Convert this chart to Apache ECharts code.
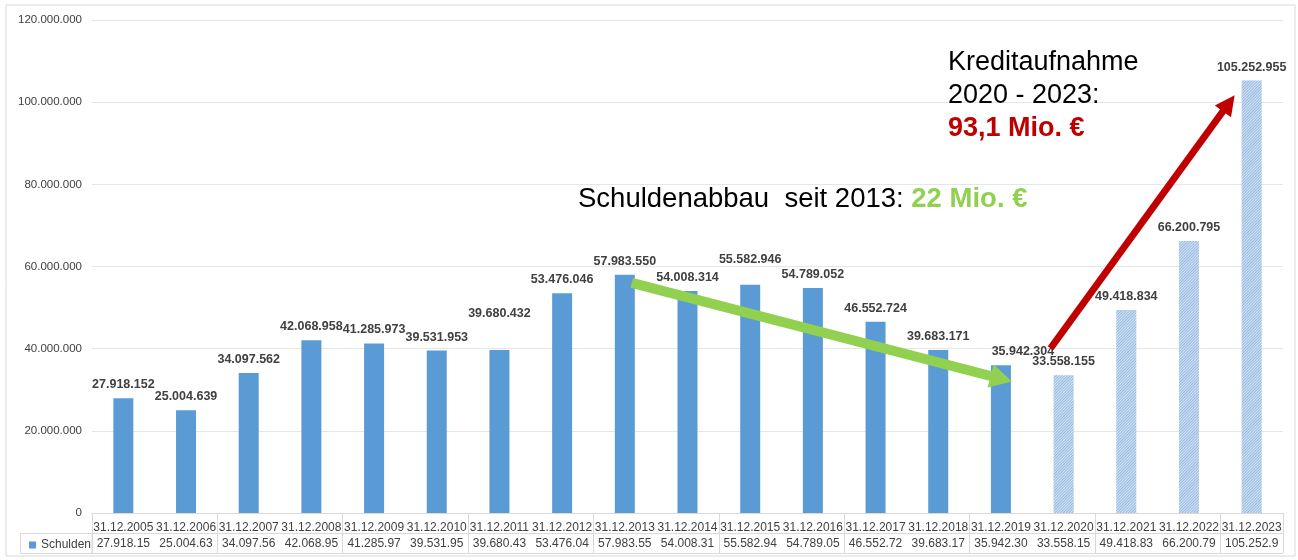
<!DOCTYPE html>
<html>
<head>
<meta charset="utf-8">
<script src="https://cdn.jsdelivr.net/npm/echarts@6/dist/echarts.min.js"></script>
<style>
    html, body { margin: 0; padding: 0; background: #fff; }
    #main { width: 1298px; height: 560px; }
</style>
</head>
<body>
<div id="main"></div>
<script>
    var dates = ['31.12.2005', '31.12.2006', '31.12.2007', '31.12.2008', '31.12.2009', '31.12.2010',
        '31.12.2011', '31.12.2012', '31.12.2013', '31.12.2014', '31.12.2015', '31.12.2016',
        '31.12.2017', '31.12.2018', '31.12.2019', '31.12.2020', '31.12.2021', '31.12.2022', '31.12.2023'];
    var schulden = [27918152, 25004639, 34097562, 42068958, 41285973, 39531953,
        39680432, 53476046, 57983550, 54008314, 55582946, 54789052,
        46552724, 39683171, 35942304, 33558155, 49418834, 66200795, 105252955];
    // Jahre mit Kreditaufnahme (schraffiert)
    var kreditJahre = ['31.12.2020', '31.12.2021', '31.12.2022', '31.12.2023'];
    var yTicks = [0, 20000000, 40000000, 60000000, 80000000, 100000000, 120000000];

    var myChart = echarts.init(document.getElementById('main'));

    function fmt(v) {
        return String(v).replace(/\B(?=(\d{3})+(?!\d))/g, '.');
    }

    // label shifts where the original moved a label
    var labelShift = { 6: [0, -23], 10: [0, -12], 14: [22, 0] };

    var barData = [];
    for (var i = 0; i < schulden.length; i++) {
        var item = { value: schulden[i] };
        if (kreditJahre.indexOf(dates[i]) >= 0) {
            item.itemStyle = {
                color: '#d6e4f4',
                decal: {
                    symbol: 'rect',
                    color: '#94b9e2',
                    dashArrayX: [1, 0],
                    dashArrayY: [1, 1],
                    rotation: -Math.PI / 4
                }
            };
        }
        if (labelShift[i]) {
            item.label = { offset: labelShift[i] };
        }
        barData.push(item);
    }

    var font = '"Liberation Sans", Arial, sans-serif';

    var option = {
        animation: false,
        textStyle: { fontFamily: font },
        legend: {
            left: 24,
            top: 534,
            icon: 'rect',
            itemWidth: 7,
            itemHeight: 7,
            itemGap: 4,
            textStyle: { fontSize: 12, color: '#404040', fontFamily: font },
            data: ['Schulden']
        },
        grid: [
            { left: 92, right: 15, top: 20, bottom: 47 },
            { left: 92, right: 15, top: 513, height: 40 }
        ],
        xAxis: [
            {
                type: 'category',
                data: dates,
                gridIndex: 0,
                axisLine: { lineStyle: { color: '#d9d9d9' } },
                axisTick: { show: false },
                axisLabel: {
                    margin: 6,
                    interval: 0,
                    formatter: function (val, idx) {
                        return '{d|' + val + '}\n{v|' + fmt(schulden[idx]).slice(0, 9) + '}';
                    },
                    rich: {
                        d: { fontSize: 12, color: '#404040', lineHeight: 18, fontFamily: font },
                        v: { fontSize: 12, color: '#404040', lineHeight: 13, fontFamily: font }
                    }
                }
            },
            {
                type: 'category',
                data: dates,
                gridIndex: 1,
                axisLine: { show: false },
                axisTick: { show: false },
                axisLabel: { show: false },
                splitLine: { show: true, lineStyle: { color: '#d9d9d9' } }
            }
        ],
        yAxis: [
            {
                type: 'value',
                gridIndex: 0,
                min: yTicks[0],
                max: yTicks[yTicks.length - 1],
                interval: yTicks[1] - yTicks[0],
                axisLine: { show: false },
                axisTick: { show: false },
                axisLabel: {
                    margin: 10,
                    fontSize: 11.5,
                    color: '#404040',
                    formatter: function (v) { return fmt(v); }
                },
                splitLine: { lineStyle: { color: '#e6e6e6' } }
            },
            {
                type: 'value',
                gridIndex: 1,
                min: 0,
                max: 2,
                interval: 1,
                axisLine: { show: false },
                axisTick: { show: false },
                axisLabel: { show: false },
                splitLine: { show: true, lineStyle: { color: '#d9d9d9' } }
            }
        ],
        series: [
            {
                name: 'Schulden',
                type: 'bar',
                xAxisIndex: 0,
                yAxisIndex: 0,
                barWidth: 20,
                itemStyle: { color: '#5b9bd5' },
                label: {
                    show: true,
                    position: 'top',
                    distance: 7,
                    fontSize: 12.5,
                    fontWeight: 'bold',
                    color: '#404040',
                    fontFamily: font,
                    formatter: function (p) { return fmt(p.value); }
                },
                data: barData
            }
        ]
    };

    myChart.setOption(option);

    function arrow(p0, p1, width, headLen, headHalf, color) {
        var dx = p1[0] - p0[0], dy = p1[1] - p0[1];
        var len = Math.sqrt(dx * dx + dy * dy);
        var ux = dx / len, uy = dy / len;
        var bx = p1[0] - ux * headLen, by = p1[1] - uy * headLen;
        return [
            {
                type: 'line',
                shape: { x1: p0[0], y1: p0[1], x2: bx + ux, y2: by + uy },
                style: { stroke: color, lineWidth: width },
                z: 100
            },
            {
                type: 'polygon',
                shape: { points: [p1, [bx - uy * headHalf, by + ux * headHalf], [bx + uy * headHalf, by - ux * headHalf]] },
                style: { fill: color },
                z: 100
            }
        ];
    }

    function px(idx, val, dx) {
        var p = myChart.convertToPixel({ xAxisIndex: 0, yAxisIndex: 0 }, [idx, val]);
        return [p[0] + dx, p[1]];
    }

    var graphics = [
        {
            type: 'rect',
            shape: { x: 6, y: 5, width: 1289, height: 551 },
            style: { fill: null, stroke: '#d9d9d9', lineWidth: 1 },
            z: 0
        },
        {
            type: 'rect',
            shape: { x: 20.5, y: 533.5, width: 71.5, height: 20 },
            style: { fill: null, stroke: '#d9d9d9', lineWidth: 1 },
            z: 0
        },
        {
            type: 'text',
            left: 578,
            top: 185,
            style: {
                text: '{a|Schuldenabbau  seit 2013: }{b|22 Mio. €}',
                rich: {
                    a: { fontSize: 27.5, fontFamily: font, fill: '#000' },
                    b: { fontSize: 27.5, fontFamily: font, fill: '#92d050', fontWeight: 'bold' }
                }
            },
            z: 100
        },
        {
            type: 'text',
            left: 948,
            top: 49,
            style: {
                text: '{a|Kreditaufnahme}\n{a|2020 - 2023:}\n{b|93,1 Mio. €}',
                rich: {
                    a: { fontSize: 27, lineHeight: 33, fontFamily: font, fill: '#000' },
                    b: { fontSize: 27, lineHeight: 33, fontFamily: font, fill: '#c00000', fontWeight: 'bold' }
                }
            },
            z: 100
        }
    ];

    graphics = graphics.concat(arrow(px(8, 56000000, 7), px(14, 32000000, 11), 10, 22, 12, '#92d050'));
    graphics = graphics.concat(arrow(px(15, 40100000, -13), px(18, 101700000, -17), 7, 20, 10, '#c00000'));

    myChart.setOption({ graphic: graphics });
</script>
</body>
</html>
